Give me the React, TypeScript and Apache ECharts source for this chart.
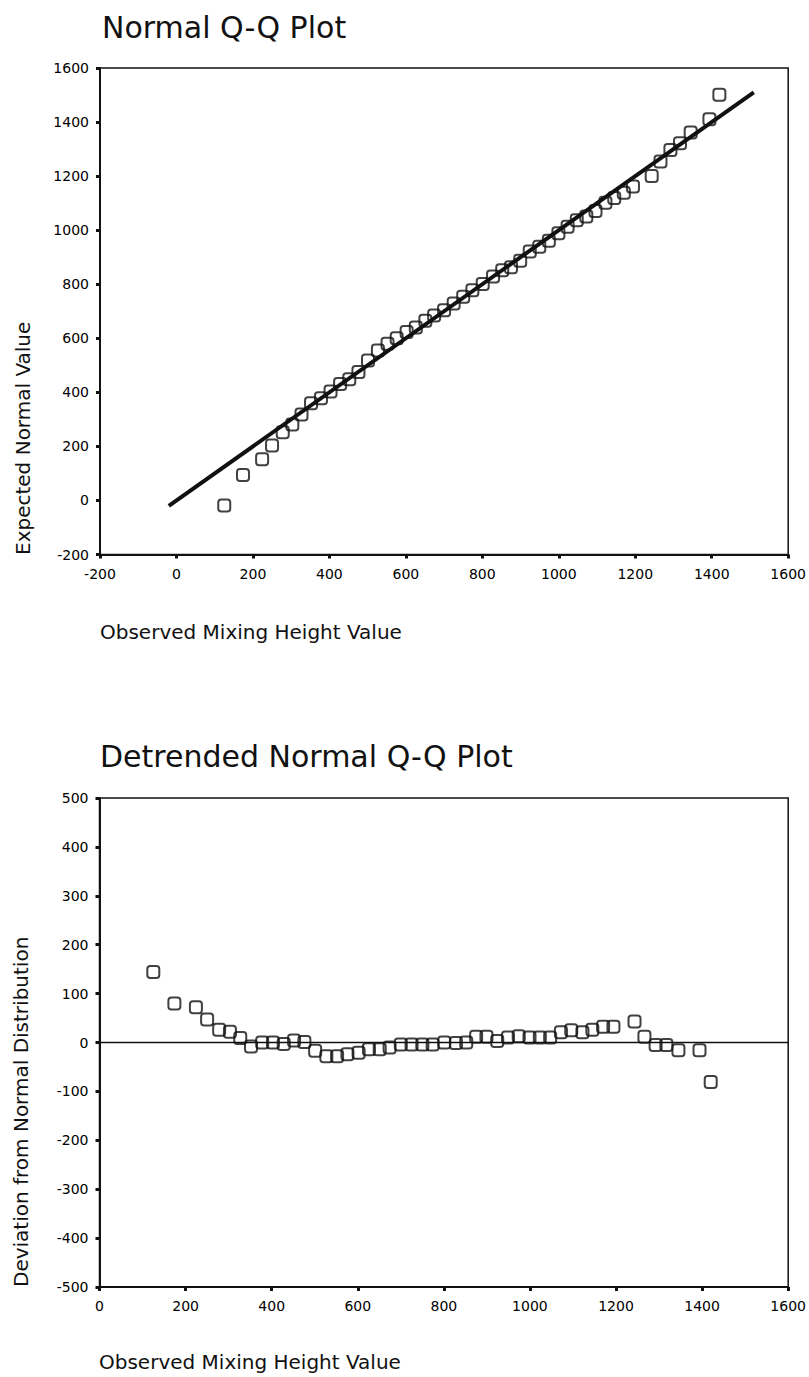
import React, { useEffect, useRef } from "react";
import * as echarts from "echarts";

// Observed mixing height values (x in both plots)
const observed = [
  125, 174, 224, 250, 278, 303, 327, 352, 378, 403,
  428, 452, 476, 501, 527, 552, 576, 602, 626, 651,
  674, 700, 725, 750, 774, 801, 828, 852, 875, 899,
  924, 949, 974, 999, 1023, 1047, 1072, 1096, 1122, 1145,
  1170, 1194, 1243, 1266, 1292, 1317, 1345, 1394, 1420,
];
// Expected normal values (y in the Q-Q plot)
const expected = [
  -19, 94, 152, 203, 252, 281, 318, 360, 378, 403,
  431, 448, 475, 518, 555, 580, 600, 623, 640, 665,
  684, 704, 729, 754, 778, 801, 829, 852, 863, 887,
  921, 939, 961, 989, 1013, 1037, 1051, 1071, 1101, 1119,
  1138, 1162, 1200, 1254, 1297, 1322, 1361, 1410, 1501,
];
// Deviation from normal distribution (y in the detrended plot)
const deviation = [
  144, 80, 72, 47, 26, 22, 9, -8, 0, 0,
  -3, 4, 1, -17, -28, -28, -24, -21, -14, -14,
  -10, -4, -4, -4, -4, 0, -1, 0, 12, 12,
  3, 10, 13, 10, 10, 10, 21, 25, 21, 26,
  32, 32, 43, 12, -5, -5, -16, -16, -81,
];
// Reference line of the Q-Q plot (start and end)
const refLineX = [-20, 1510];
const refLineY = [-20, 1510];
// Zero line of the detrended plot
const zeroLineX = [0, 1600];
const zeroLineY = [0, 0];

const qqTicks = [-200, 0, 200, 400, 600, 800, 1000, 1200, 1400, 1600];
const detX = [0, 200, 400, 600, 800, 1000, 1200, 1400, 1600];
const detY = [-500, -400, -300, -200, -100, 0, 100, 200, 300, 400, 500];

const titles = ["Normal Q-Q Plot", "Detrended Normal Q-Q Plot"];
const xName = "Observed Mixing Height Value";
const yNames = ["Expected Normal Value", "Deviation from Normal Distribution"];

const FONT = "DejaVu Sans, Verdana, sans-serif";
const INK = "#111111";

function axisCommon(ticks: number[], gridIndex: number, isX: boolean) {
  return {
    type: "value" as const,
    gridIndex,
    min: ticks[0],
    max: ticks[ticks.length - 1],
    interval: ticks[1] - ticks[0],
    splitLine: { show: false },
    axisLine: { show: true, onZero: false, lineStyle: { color: INK, width: 2 } },
    axisTick: { show: true, length: 4, lineStyle: { color: INK, width: 3 } },
    axisLabel: {
      color: "#000",
      fontFamily: FONT,
      fontSize: 14,
      margin: isX ? 12 : 11,
      showMinLabel: true,
      showMaxLabel: true,
      formatter: (v: number) => String(v),
    },
  };
}

export default function App() {
  const ref = useRef<HTMLDivElement>(null);
  useEffect(() => {
    if (!ref.current) return;
    const chart = echarts.init(ref.current, null, { renderer: "svg" });
    const sq = {
      type: "scatter" as const,
      symbol: "roundRect",
      symbolSize: 12,
      itemStyle: { color: "rgba(255,255,255,0)", borderColor: INK, borderWidth: 2 },
      z: 5,
    };
    const titleText = (text: string, x: number, y: number, size: number) => ({
      type: "text",
      x,
      y,
      style: {
        text,
        fill: INK,
        font: `${size}px ${FONT}`,
        textAlign: "left",
        align: "left",
        textVerticalAlign: "middle",
        verticalAlign: "middle",
      },
    });
    const vText = (text: string, x: number, y: number) => ({
      type: "text",
      x,
      y,
      rotation: Math.PI / 2,
      style: {
        text,
        fill: INK,
        font: `20px ${FONT}`,
        textAlign: "left",
        align: "left",
        textVerticalAlign: "middle",
        verticalAlign: "middle",
      },
    });
    chart.setOption({
      animation: false,
      backgroundColor: "#ffffff",
      grid: [
        { left: 100, top: 68, width: 690, height: 486.5, show: true, borderColor: INK, borderWidth: 1.5, backgroundColor: "transparent" },
        { left: 99.5, top: 798, width: 692, height: 489, show: true, borderColor: INK, borderWidth: 1.5, backgroundColor: "transparent" },
      ],
      xAxis: [axisCommon(qqTicks, 0, true), axisCommon(detX, 1, true)],
      yAxis: [axisCommon(qqTicks, 0, false), axisCommon(detY, 1, false)],
      series: [
        {
          type: "line",
          xAxisIndex: 0,
          yAxisIndex: 0,
          data: refLineX.map((x, i) => [x, refLineY[i]]),
          symbol: "none",
          lineStyle: { color: INK, width: 4 },
          z: 2,
        },
        {
          ...sq,
          xAxisIndex: 0,
          yAxisIndex: 0,
          data: observed.map((x, i) => [x, expected[i]]),
        },
        {
          type: "line",
          xAxisIndex: 1,
          yAxisIndex: 1,
          data: zeroLineX.map((x, i) => [x, zeroLineY[i]]),
          symbol: "none",
          lineStyle: { color: INK, width: 1.5 },
          z: 2,
        },
        {
          ...sq,
          xAxisIndex: 1,
          yAxisIndex: 1,
          data: observed.map((x, i) => [x, deviation[i]]),
        },
      ],
      graphic: [
        titleText(titles[0], 102, 27, 30),
        titleText(titles[1], 100, 756, 30),
        titleText(xName, 100, 632, 20),
        titleText(xName, 99, 1362, 20),
        vText(yNames[0], 23, 555),
        vText(yNames[1], 21, 1287),
      ],
    });
    return () => chart.dispose();
  }, []);
  return (
    <div
      ref={ref}
      style={{ position: "absolute", left: 0, top: 0, width: 809, height: 1377 }}
    />
  );
}
